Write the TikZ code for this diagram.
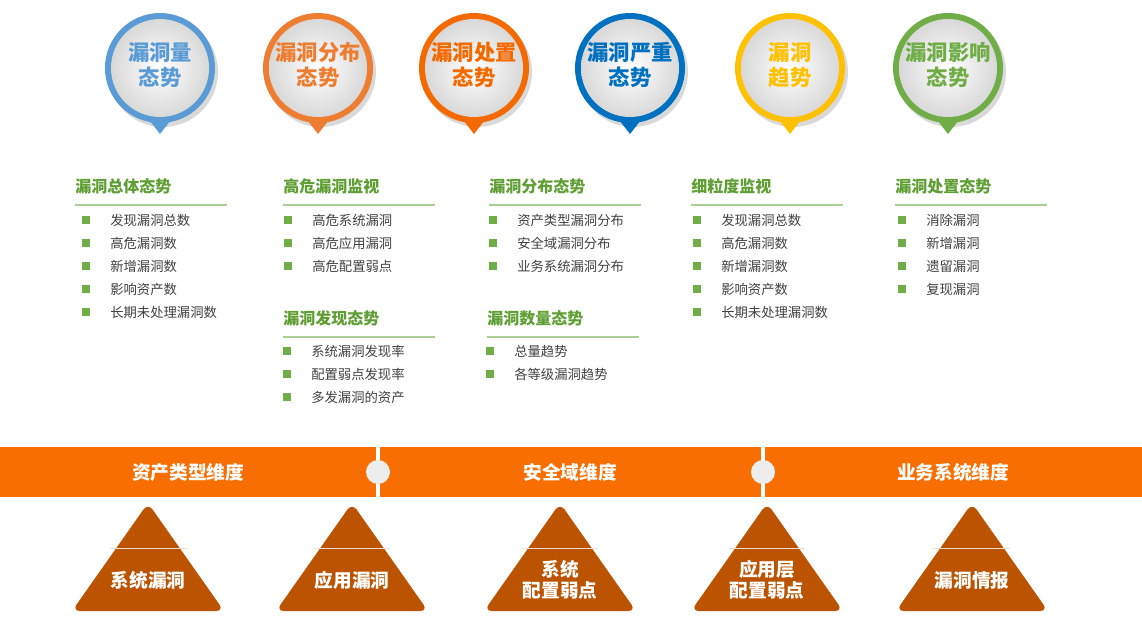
\documentclass[tikz,border=0pt]{standalone}
\usepackage{fontspec}
\setmainfont{Noto Sans CJK SC}
\usetikzlibrary{positioning}
\definecolor{cblue}{HTML}{5B9BD5}
\definecolor{corange}{HTML}{ED7D31}
\definecolor{cdorange}{HTML}{F56A00}
\definecolor{cdblue}{HTML}{0070C0}
\definecolor{cyellow}{HTML}{FFC000}
\definecolor{cgreen}{HTML}{70AD47}
\definecolor{chead}{HTML}{5E9E32}
\definecolor{cband}{HTML}{F86E00}
\definecolor{ctri}{HTML}{BC5300}
\tikzset{
  heading/.style={anchor=west, font=\fontsize{12}{12}\selectfont\bfseries, text=chead, inner sep=0pt},
  item/.style={anchor=west, font=\fontsize{10}{10}\selectfont, text=black!75, inner sep=0pt},
  bandlabel/.style={font=\fontsize{14}{14}\selectfont\bfseries, text=white},
  trilabel/.style={font=\fontsize{14}{16}\selectfont\bfseries, text=white, align=center},
}
\newcommand{\pin}[4]{% x, colour, name, text
  \fill[black!15] (#1+3,72) circle (55);
  \fill[#2] (#1-14,116) -- (#1+14,116) -- (#1,134) -- cycle;
  \fill[#2] (#1,68) circle (55);
  \shade[inner color=white, outer color=black!15] (#1,68) circle (49);
  \node[font=\fontsize{16}{19}\selectfont\bfseries, text=#2, align=center] (#3) at (#1,65) {#4};
}
\newcommand{\heading}[4]{% x, y, name, text
  \node[heading] (#3) at (#1,#2) {#4};
  \draw[cgreen!60, line width=0.8pt] (#1,205-186+#2) -- ++(152,0);
}
\newcommand{\items}[4]{% x, y, name, list
  \foreach \t [count=\i] in {#4} {
    \fill[cgreen] (#1,#2+23*\i-23-4) rectangle ++(8,8);
    \node[item] (#3\i) at (#1+28,#2+23*\i-23) {\t};
  }
}
\newcommand{\tri}[3]{% x, name, text
  \fill[ctri, rounded corners=6pt] (#1,503) -- (#1+76,611) -- (#1-76,611) -- cycle;
  \draw[white!80!ctri, line width=0.6pt] (#1-38,548) -- (#1+38,548);
  \node[trilabel] (#2) at (#1,580) {#3};
}
\begin{document}
\begin{tikzpicture}[x=0.75pt, y=-0.75pt]
\useasboundingbox (0,0) rectangle (1142,617);

\pin{160}{cblue}{P1}{漏洞量\\态势}
\pin{318}{corange}{P2}{漏洞分布\\态势}
\pin{474}{cdorange}{P3}{漏洞处置\\态势}
\pin{630}{cdblue}{P4}{漏洞严重\\态势}
\pin{790}{cyellow}{P5}{漏洞\\趋势}
\pin{948}{cgreen}{P6}{漏洞影响\\态势}

\heading{75}{186}{H1}{漏洞总体态势}
\items{82}{220}{A}{发现漏洞总数,高危漏洞数,新增漏洞数,影响资产数,长期未处理漏洞数}
\heading{283}{186}{H2}{高危漏洞监视}
\items{284}{220}{B}{高危系统漏洞,高危应用漏洞,高危配置弱点}
\heading{283}{318}{H3}{漏洞发现态势}
\items{283}{351}{C}{系统漏洞发现率,配置弱点发现率,多发漏洞的资产}
\heading{489}{186}{H4}{漏洞分布态势}
\items{489}{220}{D}{资产类型漏洞分布,安全域漏洞分布,业务系统漏洞分布}
\heading{487}{318}{H5}{漏洞数量态势}
\items{486}{351}{E}{总量趋势,各等级漏洞趋势}
\heading{691}{186}{H6}{细粒度监视}
\items{693}{220}{F}{发现漏洞总数,高危漏洞数,新增漏洞数,影响资产数,长期未处理漏洞数}
\heading{895}{186}{H7}{漏洞处置态势}
\items{898}{220}{G}{消除漏洞,新增漏洞,遗留漏洞,复现漏洞}

% band
\fill[cband] (0,447) rectangle (1142,497);
\draw[white, line width=3pt] (378,447) -- (378,497) (763,447) -- (763,497);
\fill[black!7] (378,472) circle (12);
\fill[black!7] (763,472) circle (12);
\node[bandlabel] (L1) at (188,472) {资产类型维度};
\node[bandlabel] (L2) at (570,472) {安全域维度};
\node[bandlabel] (L3) at (953,472) {业务系统维度};

\tri{148}{T1}{系统漏洞}
\tri{352}{T2}{应用漏洞}
\tri{560}{T3}{系统\\配置弱点}
\tri{767}{T4}{应用层\\配置弱点}
\tri{972}{T5}{漏洞情报}
\end{tikzpicture}
\end{document}
